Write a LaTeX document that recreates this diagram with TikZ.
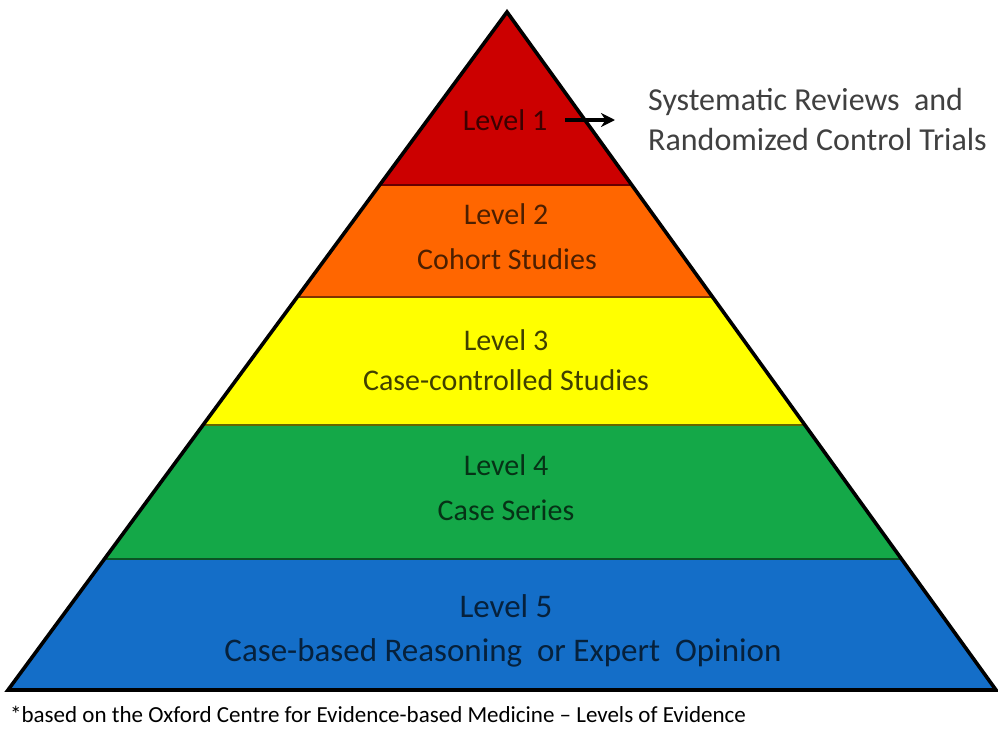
\documentclass[tikz,border=0pt]{standalone}
\usepackage{fontspec}
\setmainfont{Carlito}
\usetikzlibrary{arrows.meta}
\definecolor{lred}{RGB}{204,0,0}
\definecolor{lorange}{RGB}{255,102,0}
\definecolor{lyellow}{RGB}{255,255,0}
\definecolor{lgreen}{RGB}{20,168,72}
\definecolor{lblue}{RGB}{20,110,200}
\definecolor{desc}{RGB}{64,64,64}
\tikzset{
  lvl/.style={inner sep=0pt, font=\fontsize{30}{36}\selectfont},
  lvlbig/.style={inner sep=0pt, font=\fontsize{33}{40}\selectfont},
  sepline/.style={line width=1.4pt},
  outline/.style={line width=3.6pt, line join=miter},
  arr/.style={line width=4pt, -{Stealth[length=14pt,width=14pt]}}
}
\begin{document}
\begin{tikzpicture}[x=1pt,y=-1pt]
\useasboundingbox (0,0) rectangle (998,736);
\fill[white] (0,0) rectangle (998,736);
\begin{scope}
  \clip (507,12) -- (8,690) -- (996,690) -- cycle;
  \fill[lred]    (0,0)   rectangle (998,185);
  \fill[lorange] (0,185) rectangle (998,297);
  \fill[lyellow] (0,297) rectangle (998,425);
  \fill[lgreen]  (0,425) rectangle (998,559);
  \fill[lblue]   (0,559) rectangle (998,700);
  \draw[sepline, lred!50!black]    (0,185) -- (998,185);
  \draw[sepline, lorange!50!black] (0,297) -- (998,297);
  \draw[sepline, lyellow!40!black] (0,425) -- (998,425);
  \draw[sepline, lgreen!50!black]  (0,559) -- (998,559);
\end{scope}
\draw[outline] (507,12) -- (8,690) -- (996,690) -- cycle;

\node[lvl, text=lred!30!black]    (l1)  at (505,120) {Level 1};
\node[lvl, text=lorange!30!black] (l2)  at (506,214) {Level 2};
\node[lvl, text=lorange!30!black] (l2b) at (507,259) {Cohort Studies};
\node[lvl, text=lyellow!25!black] (l3)  at (506,340) {Level 3};
\node[lvl, text=lyellow!25!black] (l3b) at (506,380) {Case-controlled Studies};
\node[lvl, text=lgreen!30!black]  (l4)  at (506,465) {Level 4};
\node[lvl, text=lgreen!30!black]  (l4b) at (506,510) {Case Series};
\node[lvlbig, text=lblue!30!black] (l5)  at (506,606) {Level 5};
\node[lvlbig, text=lblue!30!black] (l5b) at (503,653) {Case-based Reasoning\ \ or Expert\ \ Opinion};

\node[inner sep=0pt, anchor=west, align=left, text=desc,
      font=\fontsize{32}{40}\selectfont] (sys) at (648,120)
  {Systematic Reviews\ \ and\\Randomized Control Trials};
\draw[arr] ([xshift=18pt]l1.east) -- ([xshift=-33pt]sys.west);

\node[inner sep=0pt, anchor=west, text=black, font=\fontsize{23}{27}\selectfont] (fn) at (10,714)
  {*based on the Oxford Centre for Evidence-based Medicine -- Levels of Evidence};
\end{tikzpicture}
\end{document}
